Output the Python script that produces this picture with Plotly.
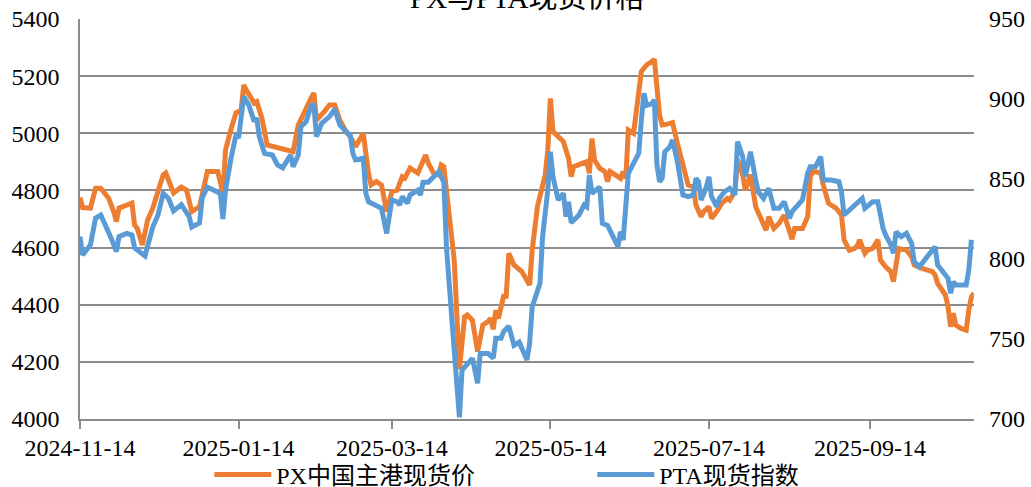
import plotly.graph_objects as go

# ---------------- data ----------------
px_dates = [
    "2024-11-14", "2024-11-15", "2024-11-18", "2024-11-20", "2024-11-22", "2024-11-25", "2024-11-27",
    "2024-11-28", "2024-11-29", "2024-12-02", "2024-12-04", "2024-12-05", "2024-12-06", "2024-12-08",
    "2024-12-10", "2024-12-12", "2024-12-14", "2024-12-16", "2024-12-17", "2024-12-20", "2024-12-23",
    "2024-12-25", "2024-12-27", "2024-12-30", "2025-01-02", "2025-01-06", "2025-01-08", "2025-01-09",
    "2025-01-11", "2025-01-13", "2025-01-15", "2025-01-16", "2025-01-17", "2025-01-19", "2025-01-20",
    "2025-01-21", "2025-01-23", "2025-01-25", "2025-02-04", "2025-02-06", "2025-02-09", "2025-02-11",
    "2025-02-12", "2025-02-13", "2025-02-16", "2025-02-18", "2025-02-20", "2025-02-22", "2025-02-24",
    "2025-02-26", "2025-02-28", "2025-03-03", "2025-03-05", "2025-03-06", "2025-03-08", "2025-03-10",
    "2025-03-12", "2025-03-14", "2025-03-16", "2025-03-18", "2025-03-19", "2025-03-21", "2025-03-24",
    "2025-03-27", "2025-03-28", "2025-03-30", "2025-04-01", "2025-04-02", "2025-04-03", "2025-04-05",
    "2025-04-07", "2025-04-09", "2025-04-11", "2025-04-12", "2025-04-14", "2025-04-16", "2025-04-18",
    "2025-04-20", "2025-04-21", "2025-04-22", "2025-04-23", "2025-04-24", "2025-04-26", "2025-04-27",
    "2025-04-28", "2025-04-30", "2025-05-03", "2025-05-06", "2025-05-07", "2025-05-09", "2025-05-12",
    "2025-05-13", "2025-05-14", "2025-05-15", "2025-05-17", "2025-05-19", "2025-05-21", "2025-05-22",
    "2025-05-23", "2025-05-26", "2025-05-28", "2025-05-29", "2025-05-30", "2025-05-31", "2025-06-02",
    "2025-06-04", "2025-06-05", "2025-06-06", "2025-06-08", "2025-06-10", "2025-06-11", "2025-06-12",
    "2025-06-13", "2025-06-15", "2025-06-18", "2025-06-20", "2025-06-22", "2025-06-23", "2025-06-25",
    "2025-06-26", "2025-06-28", "2025-06-30", "2025-07-02", "2025-07-04", "2025-07-06", "2025-07-08",
    "2025-07-09", "2025-07-11", "2025-07-12", "2025-07-14", "2025-07-15", "2025-07-17", "2025-07-19",
    "2025-07-21", "2025-07-22", "2025-07-24", "2025-07-25", "2025-07-27", "2025-07-28", "2025-07-30",
    "2025-08-01", "2025-08-03", "2025-08-05", "2025-08-06", "2025-08-08", "2025-08-10", "2025-08-12",
    "2025-08-13", "2025-08-15", "2025-08-16", "2025-08-19", "2025-08-21", "2025-08-22", "2025-08-23",
    "2025-08-26", "2025-08-27", "2025-08-29", "2025-09-01", "2025-09-03", "2025-09-04", "2025-09-06",
    "2025-09-08", "2025-09-09", "2025-09-10", "2025-09-12", "2025-09-13", "2025-09-15", "2025-09-17",
    "2025-09-18", "2025-09-20", "2025-09-22", "2025-09-23", "2025-09-24", "2025-09-25", "2025-09-28",
    "2025-09-30", "2025-10-01", "2025-10-04", "2025-10-08", "2025-10-09", "2025-10-10", "2025-10-12",
    "2025-10-13", "2025-10-14", "2025-10-15", "2025-10-16", "2025-10-17", "2025-10-19", "2025-10-21",
    "2025-10-22", "2025-10-23", "2025-10-24",
]
px_values = [
    4775, 4740, 4738, 4808, 4808, 4773, 4725,
    4691, 4738, 4749, 4756, 4679, 4668, 4609,
    4696, 4738, 4791, 4854, 4861, 4791, 4812,
    4801, 4726, 4743, 4866, 4866, 4791, 4941,
    5011, 5071, 5081, 5169, 5151, 5123, 5106,
    5111, 5053, 4959, 4936, 5029, 5093, 5125,
    5141, 5046, 5076, 5099, 5099, 5046, 5011,
    4988, 4953, 5000, 4861, 4819, 4831, 4819,
    4726, 4796, 4801, 4848, 4843, 4878, 4861,
    4924, 4896, 4861, 4854, 4889, 4883, 4731,
    4556, 4175, 4358, 4364, 4346, 4236, 4329,
    4341, 4352, 4314, 4381, 4352, 4430, 4430,
    4580, 4539, 4516, 4469, 4591, 4743, 4854,
    4941, 5122, 5006, 4988, 4971, 4912, 4848,
    4883, 4895, 4901, 4860, 4982, 4906, 4877,
    4866, 4831, 4866, 4854, 4842, 4866, 4842,
    5011, 5000, 5216, 5239, 5251, 5259, 5064,
    5029, 5032, 5037, 4959, 4883, 4819, 4813,
    4749, 4708, 4726, 4743, 4702, 4726, 4755,
    4772, 4766, 4796, 4907, 4854, 4801, 4855,
    4743, 4702, 4661, 4708, 4667, 4685, 4714,
    4685, 4629, 4667, 4667, 4708, 4848, 4866,
    4862, 4819, 4755, 4737, 4714, 4627, 4591,
    4597, 4605, 4627, 4580, 4591, 4597, 4627,
    4556, 4533, 4516, 4481, 4556, 4597, 4591,
    4568, 4539, 4527, 4516, 4504, 4475, 4452,
    4434, 4393, 4323, 4370, 4329, 4317, 4311,
    4381, 4428, 4440,
]

pta_dates = [
    "2024-11-14", "2024-11-15", "2024-11-18", "2024-11-20", "2024-11-22", "2024-11-24", "2024-11-26",
    "2024-11-28", "2024-11-29", "2024-12-02", "2024-12-04", "2024-12-05", "2024-12-07", "2024-12-09",
    "2024-12-12", "2024-12-14", "2024-12-16", "2024-12-18", "2024-12-20", "2024-12-23", "2024-12-26",
    "2024-12-27", "2024-12-30", "2024-12-31", "2025-01-02", "2025-01-05", "2025-01-07", "2025-01-08",
    "2025-01-09", "2025-01-11", "2025-01-13", "2025-01-14", "2025-01-15", "2025-01-16", "2025-01-18",
    "2025-01-20", "2025-01-21", "2025-01-22", "2025-01-24", "2025-01-27", "2025-01-29", "2025-01-31",
    "2025-02-03", "2025-02-04", "2025-02-06", "2025-02-07", "2025-02-09", "2025-02-11", "2025-02-12",
    "2025-02-13", "2025-02-15", "2025-02-18", "2025-02-20", "2025-02-22", "2025-02-25", "2025-02-26",
    "2025-02-27", "2025-02-28", "2025-03-03", "2025-03-04", "2025-03-05", "2025-03-07", "2025-03-10",
    "2025-03-12", "2025-03-14", "2025-03-16", "2025-03-17", "2025-03-18", "2025-03-20", "2025-03-21",
    "2025-03-24", "2025-03-25", "2025-03-26", "2025-03-28", "2025-03-31", "2025-04-01", "2025-04-03",
    "2025-04-04", "2025-04-07", "2025-04-09", "2025-04-10", "2025-04-12", "2025-04-14", "2025-04-16",
    "2025-04-17", "2025-04-20", "2025-04-22", "2025-04-23", "2025-04-25", "2025-04-26", "2025-04-28",
    "2025-04-30", "2025-05-02", "2025-05-05", "2025-05-06", "2025-05-07", "2025-05-10", "2025-05-11",
    "2025-05-13", "2025-05-14", "2025-05-15", "2025-05-17", "2025-05-19", "2025-05-20", "2025-05-21",
    "2025-05-22", "2025-05-25", "2025-05-27", "2025-05-28", "2025-05-29", "2025-05-30", "2025-06-02",
    "2025-06-03", "2025-06-05", "2025-06-09", "2025-06-10", "2025-06-11", "2025-06-13", "2025-06-15",
    "2025-06-17", "2025-06-18", "2025-06-19", "2025-06-20", "2025-06-22", "2025-06-23", "2025-06-24",
    "2025-06-25", "2025-06-26", "2025-06-27", "2025-06-29", "2025-06-30", "2025-07-02", "2025-07-04",
    "2025-07-06", "2025-07-08", "2025-07-09", "2025-07-10", "2025-07-11", "2025-07-13", "2025-07-14",
    "2025-07-15", "2025-07-17", "2025-07-18", "2025-07-20", "2025-07-22", "2025-07-24", "2025-07-25",
    "2025-07-27", "2025-07-28", "2025-07-30", "2025-08-01", "2025-08-02", "2025-08-04", "2025-08-06",
    "2025-08-08", "2025-08-10", "2025-08-12", "2025-08-14", "2025-08-15", "2025-08-19", "2025-08-21",
    "2025-08-22", "2025-08-24", "2025-08-26", "2025-08-27", "2025-08-30", "2025-09-02", "2025-09-03",
    "2025-09-04", "2025-09-06", "2025-09-08", "2025-09-10", "2025-09-11", "2025-09-12", "2025-09-14",
    "2025-09-15", "2025-09-17", "2025-09-19", "2025-09-20", "2025-09-22", "2025-09-23", "2025-09-24",
    "2025-09-26", "2025-09-28", "2025-09-30", "2025-10-01", "2025-10-03", "2025-10-05", "2025-10-09",
    "2025-10-10", "2025-10-12", "2025-10-14", "2025-10-15", "2025-10-16", "2025-10-17", "2025-10-21",
    "2025-10-22", "2025-10-23",
]
pta_values = [
    814, 802.5, 808.8, 825.6, 827.5, 821, 813,
    804.6, 814, 816, 815, 807, 804.6, 801.9,
    820, 827.5, 841, 838, 830, 834, 826.5,
    820, 822.5, 838, 845, 843, 841, 825,
    843, 862, 877.5, 875.6, 889, 901.5, 896,
    886, 888, 876.5, 866, 865, 858.8, 857,
    865, 857.7, 865, 882.7, 885.8, 896, 896,
    876.5, 884.8, 889, 893.6, 883.8, 878.5, 877.5,
    866, 861.9, 863, 841, 835.8, 833.8, 831.7,
    816, 836.9, 835.8, 833.8, 839, 834.8, 840,
    843, 840, 848, 848, 852.5, 854.6, 848,
    807.7, 743, 701, 730.6, 734.8, 737.9, 722.3,
    741, 741, 738, 750.4, 750.4, 754.6, 758,
    746, 748, 736.9, 747.3, 770, 784.8, 814,
    843, 867, 851.4, 836.9, 841, 826.5, 835.8,
    822.7, 827.5, 833.8, 832.7, 852.5, 841, 845,
    822.3, 821, 807.7, 817, 811.9, 853.6, 859.8,
    866, 886.9, 903.6, 896, 897, 899.4, 858.8,
    848.3, 850.4, 867, 870.2, 874.4, 859.8, 840,
    839, 840, 850.4, 848.3, 836.9, 845, 851.4,
    839, 832.7, 837.9, 842, 844.2, 840, 873.4,
    864, 851.4, 867, 849.4, 842, 837.9, 844.2,
    831.7, 831.7, 835.8, 825.4, 829.6, 836.9, 853.6,
    857.7, 857.7, 864, 849.4, 849.4, 848.3, 842,
    827.5, 830.6, 832.7, 835.8, 837.9, 831.7, 834.8,
    835.8, 835.8, 819.2, 815, 808.8, 803.6, 817,
    814, 816, 809.8, 798.3, 795.2, 799.4, 807.7,
    796.3, 792.1, 788, 778.6, 785.8, 783.8, 783.8,
    793.1, 812,
]

tick_dates = ["2024-11-14", "2025-01-14", "2025-03-14", "2025-05-14", "2025-07-14", "2025-09-14"]
tick_labels = ["2024-11-14", "2025-01-14", "2025-03-14", "2025-05-14", "2025-07-14", "2025-09-14"]
x_range = ["2024-11-14", "2025-10-24"]

title_text = "PX与PTA现货价格"
px_name = "PX中国主港现货价"
pta_name = "PTA现货指数"

# ---------------- figure ----------------
FONT = "Liberation Serif, Times New Roman, Noto Sans CJK SC, serif"
GRID = "#8c8c8c"

fig = go.Figure()
fig.add_trace(go.Scatter(
    x=px_dates, y=px_values, name=px_name, mode="lines",
    line=dict(color="#ED7D31", width=5), yaxis="y",
))
fig.add_trace(go.Scatter(
    x=pta_dates, y=pta_values, name=pta_name, mode="lines",
    line=dict(color="#5B9BD5", width=5), yaxis="y2",
))

fig.update_layout(
    width=1031, height=487,
    margin=dict(l=80, r=57, t=19, b=68, autoexpand=False),
    paper_bgcolor="white", plot_bgcolor="white",
    font=dict(family=FONT, size=24, color="black"),
    showlegend=True,
    legend=dict(
        orientation="h", x=0.573, xanchor="center", y=-0.14, yanchor="middle",
        font=dict(size=24), itemwidth=57, entrywidth=311, bgcolor="rgba(0,0,0,0)",
    ),
    xaxis=dict(
        type="date", range=x_range, tickvals=tick_dates, ticktext=tick_labels,
        showgrid=False, showline=True, linecolor=GRID, linewidth=1.5,
        ticks="outside", ticklen=8, tickcolor=GRID, tickwidth=1.5,
        zeroline=False, ticklabelstandoff=-2, automargin=False,
    ),
    yaxis=dict(
        range=[4000, 5400], dtick=200, showgrid=True, gridcolor=GRID, gridwidth=1.5,
        showline=True, linecolor=GRID, linewidth=1.5, zeroline=False, ticks="",
        ticklabelstandoff=14, automargin=False,
    ),
    yaxis2=dict(
        range=[700, 950], dtick=50, overlaying="y", side="right",
        showgrid=False, showline=False, zeroline=False, ticks="",
        ticklabelstandoff=14, automargin=False,
    ),
    annotations=[dict(
        text=title_text, x=0.5, xref="paper", y=1.052, yref="paper",
        xanchor="center", yanchor="middle", showarrow=False,
        font=dict(family=FONT, size=29, color="black"),
    )],
)

fig.write_html(
    "out.html",
    config={"displayModeBar": False},
    post_script="document.body.style.margin='0px';",
)
